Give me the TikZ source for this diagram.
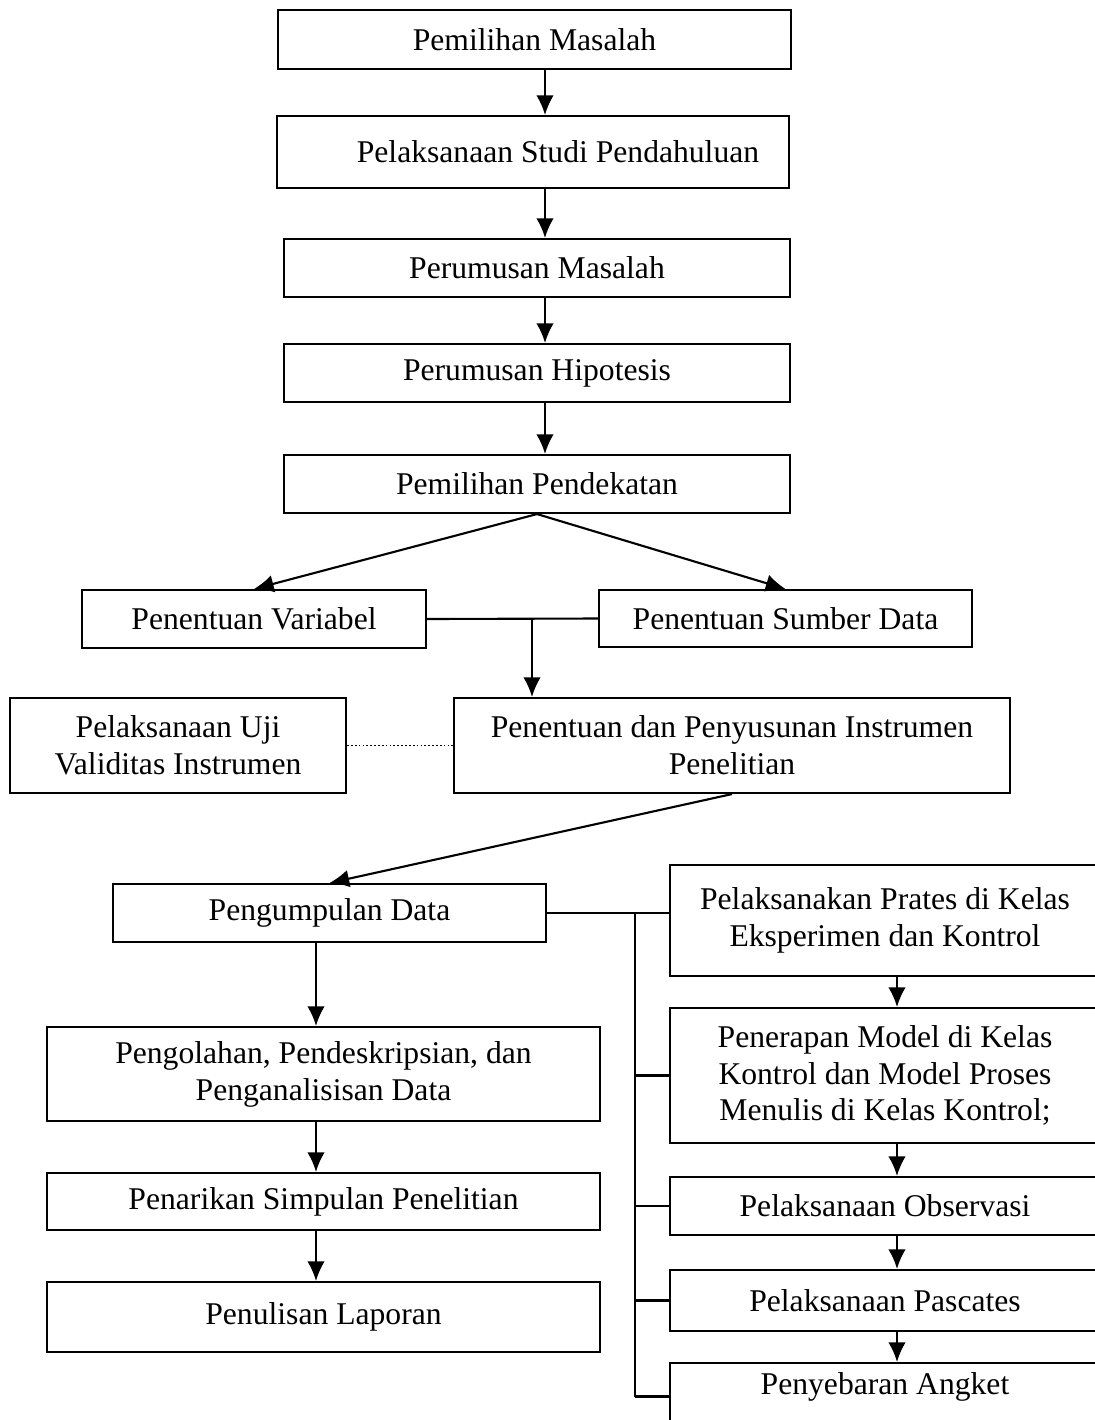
\documentclass[tikz,border=0pt]{standalone}
\usepackage{fontspec}
\setmainfont{Liberation Serif}
\usetikzlibrary{shapes,arrows.meta,positioning,calc}

\begin{document}
\begin{tikzpicture}[
    box/.style={rectangle, draw, line width=0.6pt, inner sep=0pt, align=center, font=\fontsize{9}{10.5}\selectfont},
    arrow/.style={-{Latex[length=5.6pt,width=5pt]}, line width=0.6pt},
    link/.style={line width=0.6pt}
]
    \useasboundingbox (0,0) rectangle (10.95,-14.2);
    % columns used by the straight connectors
    \coordinate (midcol) at (5.45,0);
    \coordinate (splitcol) at (5.32,0);
    \coordinate (leftcol) at (3.16,0);
    \coordinate (buscol) at (6.35,0);
    \coordinate (rightcol) at (8.97,0);

    \node[box, minimum width=5.13cm, minimum height=0.59cm] (masalah) at (5.345,-0.395) {Pemilihan Masalah};
    \node[box, minimum width=5.12cm, minimum height=0.72cm] (studi) at (5.33,-1.52) {\hspace*{0.5cm}Pelaksanaan Studi Pendahuluan};
    \node[box, minimum width=5.06cm, minimum height=0.58cm] (rumusan) at (5.37,-2.68) {Perumusan Masalah};
    \node[box, minimum width=5.06cm, minimum height=0.58cm] (hipotesis) at (5.37,-3.73) {Perumusan Hipotesis};
    \node[box, minimum width=5.06cm, minimum height=0.58cm] (pendekatan) at (5.37,-4.84) {Pemilihan Pendekatan};
    \node[box, minimum width=3.44cm, minimum height=0.58cm] (variabel) at (2.54,-6.19) {Penentuan Variabel};
    \node[box, minimum width=3.73cm, minimum height=0.57cm] (sumber) at (7.855,-6.185) {Penentuan Sumber Data};
    \node[box, minimum width=3.36cm, minimum height=0.95cm] (ujivalid) at (1.78,-7.455) {Pelaksanaan Uji\\Validitas Instrumen};
    \node[box, minimum width=5.56cm, minimum height=0.95cm] (instrumen) at (7.32,-7.455) {Penentuan dan Penyusunan Instrumen\\Penelitian};

    % left column
    \node[box, minimum width=4.33cm, minimum height=0.58cm] (kumpul) at (3.295,-9.13) {Pengumpulan Data};
    \node[box, minimum width=5.53cm, minimum height=0.94cm] (olah) at (3.235,-10.74) {Pengolahan, Pendeskripsian, dan\\Penganalisisan Data};
    \node[box, minimum width=5.53cm, minimum height=0.57cm] (simpulan) at (3.235,-12.015) {Penarikan Simpulan Penelitian};
    \node[box, minimum width=5.53cm, minimum height=0.70cm] (laporan) at (3.235,-13.17) {Penulisan Laporan};

    % right column
    \node[box, minimum width=4.30cm, minimum height=1.11cm] (prates) at (8.85,-9.205) {Pelaksanakan Prates di Kelas\\Eksperimen dan Kontrol};
    \node[box, minimum width=4.30cm, minimum height=1.35cm] (penerapan) at (8.85,-10.755) {Penerapan Model di Kelas\\Kontrol dan Model Proses\\Menulis di Kelas Kontrol;};
    \node[box, minimum width=4.30cm, minimum height=0.58cm] (observasi) at (8.85,-12.06) {Pelaksanaan Observasi};
    \node[box, minimum width=4.30cm, minimum height=0.61cm] (pascates) at (8.85,-13.005) {Pelaksanaan Pascates};
    \node[box, minimum width=4.30cm, minimum height=0.67cm, text depth=0.26cm] (angket) at (8.85,-13.965) {Penyebaran Angket};

    \draw[arrow] (masalah.south -| midcol) -- (studi.north -| midcol);
    \draw[arrow] (studi.south -| midcol) -- (rumusan.north -| midcol);
    \draw[arrow] (rumusan.south -| midcol) -- (hipotesis.north -| midcol);
    \draw[arrow] (hipotesis.south -| midcol) -- (pendekatan.north -| midcol);
    \draw[arrow] (pendekatan.south) -- (variabel.north);
    \draw[arrow] (pendekatan.south) -- (sumber.north);

    \draw[link] (variabel.east) -- (sumber.west);
    \draw[arrow] (variabel.east -| splitcol) -- (instrumen.north -| splitcol);
    \draw[line width=0.5pt, dash pattern=on 0.5pt off 0.6pt] (ujivalid.east) -- (instrumen.west);
    \draw[arrow] (instrumen.south) -- (kumpul.north);

    \draw[arrow] (kumpul.south -| leftcol) -- (olah.north -| leftcol);
    \draw[arrow] (olah.south -| leftcol) -- (simpulan.north -| leftcol);
    \draw[arrow] (simpulan.south -| leftcol) -- (laporan.north -| leftcol);

    % bus to the right column
    \draw[link] (kumpul.east) -- (kumpul.east -| prates.west);
    \draw[link] (kumpul.east -| buscol) -- (angket.west -| buscol);
    \foreach \n in {penerapan, observasi, pascates, angket}
        \draw[link] (\n.west -| buscol) -- (\n.west);

    \draw[arrow] (prates.south -| rightcol) -- (penerapan.north -| rightcol);
    \draw[arrow] (penerapan.south -| rightcol) -- (observasi.north -| rightcol);
    \draw[arrow] (observasi.south -| rightcol) -- (pascates.north -| rightcol);
    \draw[arrow] (pascates.south -| rightcol) -- (angket.north -| rightcol);
\end{tikzpicture}
\end{document}
